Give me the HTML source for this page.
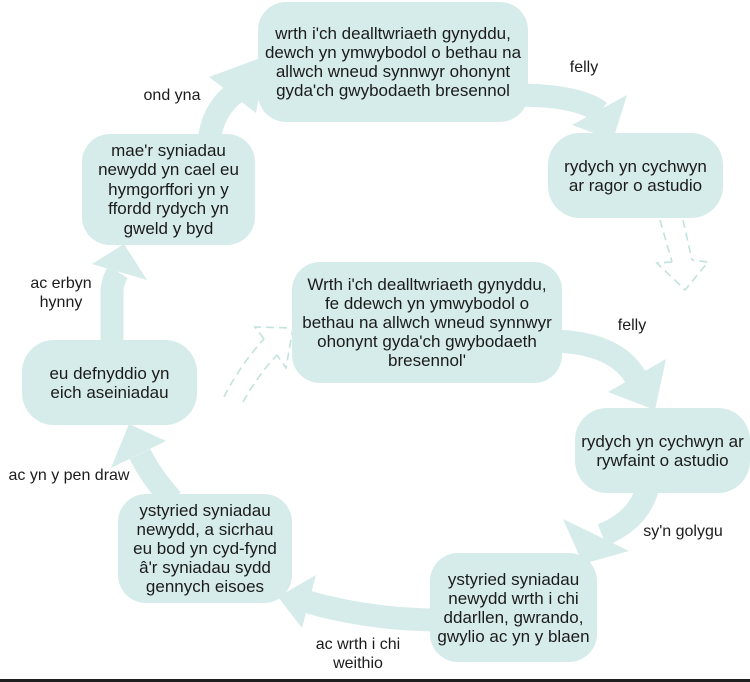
<!DOCTYPE html>
<html>
<head>
<meta charset="utf-8">
<style>
  html,body{margin:0;padding:0;background:#fff;}
  #wrap{position:relative;width:750px;height:682px;overflow:hidden;background:#fff;
    font-family:"Liberation Sans","DejaVu Sans",sans-serif;color:#1b1b1b;}
  svg{position:absolute;left:0;top:0;}
  .box{position:absolute;background:#d6ecea;border-radius:28px;display:flex;align-items:center;
    justify-content:center;text-align:center;font-size:17px;line-height:19px;white-space:nowrap;}
  .lbl{position:absolute;font-size:16px;line-height:19px;text-align:center;white-space:nowrap;transform:translateX(-50%);}
  #bar{position:absolute;left:0;top:679px;width:750px;height:3px;background:#1f1f1f;}
</style>
</head>
<body>
<div id="wrap">
<svg width="750" height="682" viewBox="0 0 750 682">
  <g fill="none" stroke="#d6ecea" stroke-width="23" stroke-linecap="butt">
    <path d="M209 142 Q212 110 236 92"/>
    <path d="M515 95 Q578 95 600 112"/>
    <path d="M548 341 Q615 341 636 378"/>
    <path d="M648 486 Q640 520 602 535"/>
    <path d="M440 620 Q370 620 304 601"/>
    <path d="M172 500 Q150 475 140 454"/>
    <path d="M112 345 L112 290 Q113 280 118 272"/>
  </g>
  <g fill="#d6ecea">
    <polygon points="266,56 209,77 256,113"/>
    <polygon points="613,140 572,125 627,95"/>
    <polygon points="655,410 608,392 666,359"/>
    <polygon points="583,564 563,519 629,551"/>
    <polygon points="278,597 316,575 302,628"/>
    <polygon points="129,424 166,441 111,468"/>
    <polygon points="124,244 92,264 147,280"/>
  </g>
  <g fill="none" stroke="#c2e2de" stroke-width="1.6" stroke-dasharray="8 5">
    <path d="M660 220 L672 262"/>
    <path d="M683 220 L692 260"/>
    <path d="M672 262 L657 263 L685 290 L708 262 L692 260"/>
    <path d="M224 397 Q240 365 264 339"/>
    <path d="M243 402 Q258 375 277 355"/>
    <path d="M264 339 L255 327 L293 328 L286 368 L277 355"/>
  </g>
</svg>

<div class="box" style="left:258px;top:2px;width:270px;height:120px;">wrth i'ch dealltwriaeth gynyddu,<br>dewch yn ymwybodol o bethau na<br>allwch wneud synnwyr ohonynt<br>gyda'ch gwybodaeth bresennol</div>

<div class="box" style="left:548px;top:133px;width:175px;height:85px;border-radius:32px;">rydych yn cychwyn<br>ar ragor o astudio</div>

<div class="box" style="left:292px;top:262px;width:270px;height:121px;">Wrth i'ch dealltwriaeth gynyddu,<br>fe ddewch yn ymwybodol o<br>bethau na allwch wneud synnwyr<br>ohonynt gyda'ch gwybodaeth<br>bresennol'</div>

<div class="box" style="left:575px;top:408px;width:175px;height:85px;border-radius:32px;">rydych yn cychwyn ar<br>rywfaint o astudio</div>

<div class="box" style="left:430px;top:553px;width:167px;height:109px;">ystyried syniadau<br>newydd wrth i chi<br>ddarllen, gwrando,<br>gwylio ac yn y blaen</div>

<div class="box" style="left:118px;top:494px;width:174px;height:109px;">ystyried syniadau<br>newydd, a sicrhau<br>eu bod yn cyd-fynd<br>â'r syniadau sydd<br>gennych eisoes</div>

<div class="box" style="left:22px;top:340px;width:175px;height:85px;border-radius:32px;">eu defnyddio yn<br>eich aseiniadau</div>

<div class="box" style="left:82px;top:134px;width:173px;height:111px;line-height:19.5px;">mae'r syniadau<br>newydd yn cael eu<br>hymgorffori yn y<br>ffordd rydych yn<br>gweld y byd</div>

<div class="lbl" style="left:584px;top:58px;">felly</div>
<div class="lbl" style="left:172px;top:86px;">ond yna</div>
<div class="lbl" style="left:61px;top:274px;">ac erbyn<br>hynny</div>
<div class="lbl" style="left:69px;top:466px;">ac yn y pen draw</div>
<div class="lbl" style="left:632px;top:316px;">felly</div>
<div class="lbl" style="left:683px;top:522px;">sy'n golygu</div>
<div class="lbl" style="left:358px;top:635px;">ac wrth i chi<br>weithio</div>

<div id="bar"></div>
</div>
</body>
</html>
